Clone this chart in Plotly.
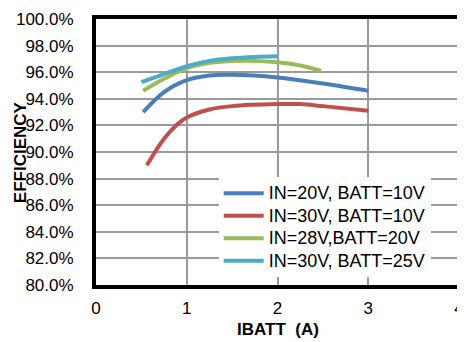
import plotly.graph_objects as go

x_blue = [0.52, 0.75, 1.0, 1.25, 1.5, 2.0, 2.5, 3.0]
y_blue = [93.0, 94.5, 95.4, 95.75, 95.8, 95.6, 95.15, 94.6]

x_red = [0.56, 0.75, 0.9, 1.0, 1.25, 1.5, 2.0, 2.25, 2.5, 3.0]
y_red = [89.0, 91.0, 92.1, 92.6, 93.2, 93.45, 93.6, 93.6, 93.45, 93.1]

x_green = [0.52, 0.75, 1.0, 1.25, 1.5, 2.0, 2.25, 2.48]
y_green = [94.6, 95.5, 96.3, 96.7, 96.85, 96.75, 96.5, 96.1]

x_cyan = [0.5, 0.75, 1.0, 1.25, 1.5, 1.75, 2.0]
y_cyan = [95.25, 95.85, 96.45, 96.85, 97.05, 97.15, 97.2]

names = ["IN=20V, BATT=10V", "IN=30V, BATT=10V", "IN=28V,BATT=20V", "IN=30V, BATT=25V"]
colors = ["#4A7EBB", "#C0504D", "#9BBB59", "#4BACC6"]

series = [(x_blue, y_blue), (x_red, y_red), (x_green, y_green), (x_cyan, y_cyan)]

fig = go.Figure()
for (xs, ys), n, c in zip(series, names, colors):
    fig.add_trace(go.Scatter(x=xs, y=ys, mode="lines",
                             name='<span style="font-size:18px">' + n + '</span>',
                             line=dict(color=c, width=4, shape="spline")))

font = "Liberation Sans, Arial, sans-serif"
fig.update_layout(
    width=457, height=334,
    margin=dict(l=88, r=6, t=11, b=57),
    paper_bgcolor="white", plot_bgcolor="white",
    font=dict(family=font, size=17, color="black"),
    showlegend=True,
    legend=dict(x=0.338, y=0.03, xanchor="left", yanchor="bottom",
                bgcolor="white", borderwidth=0, font=dict(size=15),
                tracegroupgap=0, itemwidth=40),
    xaxis=dict(range=[0, 4], dtick=1, showgrid=True, gridcolor="#9a9a9a", gridwidth=1.5,
               showline=True, linecolor="black", linewidth=4, mirror=True,
               zeroline=False, ticks="", ticklabelstandoff=5, automargin=False),
    yaxis=dict(range=[80, 100], dtick=2, showgrid=True, gridcolor="#9a9a9a", gridwidth=1.5,
               showline=True, linecolor="black", linewidth=4, mirror=True,
               zeroline=False, ticks="", tickformat=".1f", ticksuffix="%",
               ticklabelstandoff=15, automargin=False),
    annotations=[
        dict(text="<b>IBATT  (A)</b>", xref="paper", yref="paper", x=0.5, y=-0.169,
             xanchor="center", yanchor="middle", showarrow=False, font=dict(size=17)),
        dict(text="<b>EFFICIENCY</b>", xref="paper", yref="paper", x=-0.209, y=0.5,
             xanchor="center", yanchor="middle", showarrow=False, textangle=-90,
             font=dict(size=17)),
    ],
)

fig.write_html("out.html")
